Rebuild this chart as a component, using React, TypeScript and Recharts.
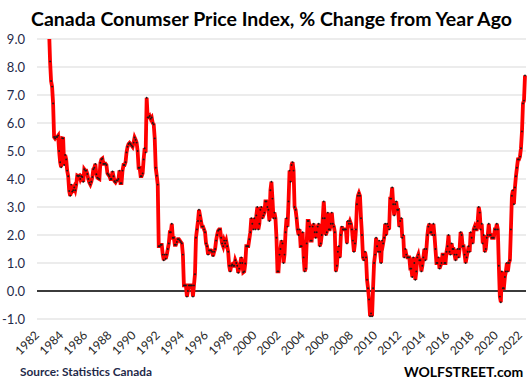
import React from 'react';
import { LineChart, Line, XAxis, YAxis, CartesianGrid, ReferenceLine } from 'recharts';

// Canada CPI, % change from year ago, monthly, Jan 1982 - May 2022
const START_YEAR = 1982;

const cpi1982to1991 = [
  11.4, 11.6, 11.7, 11.3, 11.8, 11.2, 10.9, 10.6, 10.5, 10.1, 9.9, 9.3,
  8.2, 7.5, 7.3, 6.7, 5.5, 5.45, 5.5, 5.5, 5.55, 5.0, 4.6, 4.42,
  5.46, 5.45, 4.5, 4.86, 4.7, 4.3, 4.1, 3.57, 3.4, 3.8, 3.55, 3.6,
  3.7, 3.6, 3.8, 4.12, 4.1, 4.12, 4.0, 4.1, 4.07, 3.9, 4.35, 4.3,
  4.3, 4.18, 4.0, 3.87, 3.8, 3.9, 4.07, 4.35, 4.4, 4.54, 4.17, 4.05,
  4.02, 4.0, 4.58, 4.7, 4.73, 4.54, 4.54, 4.55, 4.5, 4.2, 4.15, 4.1,
  4.0, 4.0, 4.27, 4.1, 3.92, 3.88, 3.95, 3.95, 4.0, 4.3, 3.85, 3.85,
  4.3, 4.5, 4.5, 4.6, 4.95, 5.15, 5.25, 5.29, 5.25, 5.2, 5.15, 5.3,
  5.48, 5.4, 5.3, 5.0, 4.4, 4.4, 4.1, 4.1, 4.2, 4.7, 5.1, 4.95,
  6.9, 6.2, 6.2, 6.25, 6.15, 6.2, 6.0, 5.95, 5.45, 4.4, 4.12, 3.8,
];

const cpi1992to2001 = [
  1.6, 1.6, 1.65, 1.65, 1.3, 1.1, 1.3, 1.15, 1.3, 1.5, 1.7, 2.1,
  2.1, 2.4, 1.9, 1.9, 1.65, 1.65, 1.75, 1.85, 1.85, 1.8, 1.75, 1.7,
  1.3, 0.2, 0.2, 0.2, -0.2, 0.0, 0.2, 0.2, 0.2, 0.2, -0.2, 0.2,
  0.6, 1.9, 2.2, 2.5, 2.9, 2.7, 2.5, 2.3, 2.3, 2.2, 2.1, 1.7,
  1.6, 1.3, 1.45, 1.45, 1.45, 1.4, 1.25, 1.4, 1.5, 1.8, 2.0, 2.15,
  2.2, 2.2, 1.9, 1.7, 1.6, 1.8, 1.7, 1.8, 1.6, 1.4, 0.9, 0.7,
  0.9, 0.95, 0.9, 0.9, 1.1, 1.0, 0.9, 0.65, 0.8, 1.0, 1.2, 1.0,
  0.67, 0.7, 0.98, 1.6, 1.6, 1.6, 1.85, 2.1, 2.6, 2.4, 2.2, 2.6,
  2.2, 2.7, 3.0, 2.2, 2.4, 2.9, 3.0, 2.6, 2.7, 2.8, 3.2, 3.2,
  3.0, 2.9, 2.5, 3.6, 3.9, 3.3, 2.6, 2.8, 2.6, 1.9, 0.7, 0.7,
];

const cpi2002to2011 = [
  1.3, 1.5, 1.8, 1.7, 1.0, 1.3, 2.1, 2.6, 2.3, 3.2, 4.3, 3.9,
  4.5, 4.6, 4.3, 3.0, 2.9, 2.6, 2.2, 2.0, 2.2, 1.6, 1.6, 2.1,
  1.2, 0.7, 0.8, 1.7, 2.5, 2.5, 2.3, 1.8, 1.8, 2.3, 2.4, 2.1,
  1.9, 2.1, 2.3, 2.4, 1.6, 1.7, 2.0, 2.6, 3.2, 2.6, 2.0, 2.1,
  2.8, 2.2, 2.2, 2.4, 2.8, 2.4, 2.3, 2.1, 0.7, 0.9, 1.4, 1.6,
  1.2, 2.0, 2.3, 2.2, 2.2, 2.2, 2.2, 1.7, 2.5, 2.4, 2.5, 2.4,
  2.2, 1.8, 1.4, 1.7, 2.2, 3.1, 3.4, 3.5, 3.4, 2.6, 2.0, 1.2,
  1.1, 1.4, 1.2, 0.4, 0.1, -0.3, -0.9, -0.8, -0.9, 0.1, 1.0, 1.3,
  1.9, 1.6, 1.4, 1.8, 1.4, 1.0, 1.8, 1.7, 1.9, 2.4, 2.0, 2.4,
  2.3, 2.2, 3.3, 3.3, 3.7, 3.1, 2.7, 3.1, 3.2, 2.9, 2.9, 2.3,
];

const cpi2012to2021 = [
  2.5, 2.6, 1.9, 2.0, 1.2, 1.5, 1.3, 1.2, 1.2, 1.2, 0.8, 0.8,
  0.5, 1.2, 1.0, 0.4, 0.7, 1.2, 1.3, 1.1, 1.1, 0.7, 0.9, 1.2,
  1.5, 1.1, 1.5, 2.0, 2.3, 2.4, 2.1, 2.1, 2.0, 2.4, 2.0, 1.5,
  1.0, 1.0, 1.2, 0.8, 0.9, 1.0, 1.3, 1.3, 1.0, 1.0, 1.4, 1.6,
  2.0, 1.4, 1.3, 1.7, 1.5, 1.5, 1.3, 1.1, 1.3, 1.5, 1.2, 1.5,
  2.1, 2.0, 1.6, 1.6, 1.3, 1.0, 1.2, 1.4, 1.6, 1.4, 2.1, 1.9,
  1.7, 2.2, 2.3, 2.2, 2.2, 2.5, 3.0, 2.8, 2.2, 2.4, 1.7, 2.0,
  1.4, 1.5, 1.9, 2.0, 2.4, 2.0, 2.0, 1.9, 1.9, 1.9, 2.2, 2.2,
  2.4, 2.2, 0.9, -0.2, -0.4, 0.7, 0.1, 0.1, 0.5, 0.7, 1.0, 0.7,
  1.0, 1.1, 2.2, 3.4, 3.6, 3.1, 3.7, 4.1, 4.4, 4.7, 4.7, 4.8,
];

const cpi2022 = [5.1, 5.7, 6.7, 6.8, 7.7];

const yearTickLabels = [
  '1982', '1984', '1986', '1988', '1990', '1992', '1994', '1996', '1998', '2000', '2002',
  '2004', '2006', '2008', '2010', '2012', '2014', '2016', '2018', '2020', '2022',
];

const yTicks = [-1, 0, 1, 2, 3, 4, 5, 6, 7, 8, 9];

const TITLE = 'Canada Conumser Price Index, % Change from Year Ago';
const SOURCE = 'Source: Statistics Canada';
const BRAND = 'WOLFSTREET.com';

const allValues = [...cpi1982to1991, ...cpi1992to2001, ...cpi2002to2011, ...cpi2012to2021, ...cpi2022];

const data = allValues.map((v, i) => {
  const year = START_YEAR + Math.floor(i / 12);
  const month = (i % 12) + 1;
  return { month: `${year}-${month < 10 ? '0' + month : month}`, cpi: v };
});

const xTicks = yearTickLabels.map((y) => `${y}-01`);

const FONT = 'Lato, "Open Sans", "DejaVu Sans", sans-serif';

const XTick = (props: any) => {
  const { x, y, payload } = props;
  const px = x + 2;
  const py = y + 9;
  return (
    <text
      x={px}
      y={py}
      transform={`rotate(-45, ${px}, ${py})`}
      textAnchor="end"
      fontSize={12}
      fontFamily={FONT}
      fill="#262626"
    >
      {String(payload.value).slice(0, 4)}
    </text>
  );
};

export default function App() {
  return (
    <div style={{ position: 'absolute', left: 0, top: 0, width: 530, height: 384, background: '#fff' }}>
      <LineChart
        width={530}
        height={384}
        data={data}
        margin={{ top: 39, right: 4, left: 0, bottom: 0 }}
      >
        <CartesianGrid horizontal vertical={false} stroke="#d9d9d9" strokeWidth={1} />
        <XAxis
          dataKey="month"
          type="category"
          scale="point"
          ticks={xTicks}
          interval={0}
          tick={<XTick />}
          tickLine={false}
          axisLine={false}
          height={65}
          padding={{ left: 1, right: 1 }}
        />
        <YAxis
          domain={[-1, 9]}
          ticks={yTicks}
          allowDataOverflow
          interval={0}
          width={37}
          tickLine={false}
          axisLine={false}
          tickSize={6}
          tickMargin={6}
          tickFormatter={(v: number) => v.toFixed(1)}
          tick={{ fontSize: 13, fill: '#1f2a4a', fontFamily: FONT }}
        />
        <ReferenceLine y={0} stroke="#000" strokeWidth={1.5} />
        <Line
          type="linear"
          dataKey="cpi"
          stroke="#ff0000"
          strokeWidth={3.8}
          dot={{ r: 0.95, fill: '#1a1a1a', stroke: 'none' }}
          isAnimationActive={false}
        />
      </LineChart>
      <svg
        width={530}
        height={384}
        style={{ position: 'absolute', left: 0, top: 0, pointerEvents: 'none' }}
      >
        <text
          x={31}
          y={26}
          fontFamily={FONT}
          fontWeight="bold"
          fontSize={18}
          textLength={481}
          lengthAdjust="spacingAndGlyphs"
          fill="#000"
        >
          {TITLE}
        </text>
        <text
          x={20}
          y={376}
          fontFamily={FONT}
          fontWeight="bold"
          fontSize={12}
          textLength={132}
          lengthAdjust="spacingAndGlyphs"
          fill="#1f2a4a"
        >
          {SOURCE}
        </text>
        <text
          x={404}
          y={377}
          fontFamily={FONT}
          fontWeight="bold"
          fontSize={14}
          fill="#000"
        >
          {BRAND}
        </text>
      </svg>
    </div>
  );
}
